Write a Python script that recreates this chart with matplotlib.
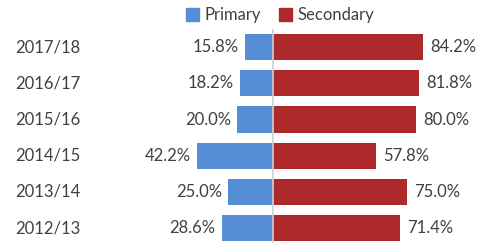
import matplotlib
matplotlib.use("Agg")
import matplotlib.pyplot as plt
import matplotlib.transforms as mtrans
from matplotlib.patches import Patch

plt.rcParams["font.family"] = ["Lato", "DejaVu Sans"]

years = ["2012/13", "2013/14", "2014/15", "2015/16", "2016/17", "2017/18"]
primary = [28.6, 25.0, 42.2, 20.0, 18.2, 15.8]
secondary = [71.4, 75.0, 57.8, 80.0, 81.8, 84.2]

BLUE = "#558ed5"
RED = "#ae2a2a"
TXT = "#404040"

fig = plt.figure(figsize=(4.96, 2.43), dpi=100)
ax = fig.add_axes([130 / 496, 0, 366 / 496, 214 / 243])

pos = list(range(len(years)))
ax.barh(pos, [-p for p in primary], height=0.72, color=BLUE)
ax.barh(pos, secondary, height=0.72, color=RED)
ax.axvline(0, color="#d0d0d0", lw=1.2)

# value labels at the bar ends
for y, p, s in zip(pos, primary, secondary):
    ax.text(-p - 3.5, y, f"{p:.1f}%", ha="right", va="center", fontsize=12, color=TXT)
    ax.text(s + 4, y, f"{s:.1f}%", ha="left", va="center", fontsize=12, color=TXT)

# year labels: figure x, data y
trans = mtrans.blended_transform_factory(fig.transFigure, ax.transData)
for y, lab in zip(pos, years):
    ax.text(15 / 496, y, lab, transform=trans, ha="left", va="center", fontsize=12, color=TXT)

ax.set_xlim(-80, 125)
ax.set_ylim(-0.41, 5.5)
ax.axis("off")

handles = [Patch(color=BLUE, label="Primary"), Patch(color=RED, label="Secondary")]
fig.legend(handles=handles, loc="center", bbox_to_anchor=(280 / 496, 1 - 15 / 243), ncol=2,
           frameon=False, fontsize=12, handlelength=0.8, handleheight=0.8, handletextpad=0.3,
           columnspacing=1.1, labelcolor=TXT)

fig.savefig("out.png", dpi=100)
